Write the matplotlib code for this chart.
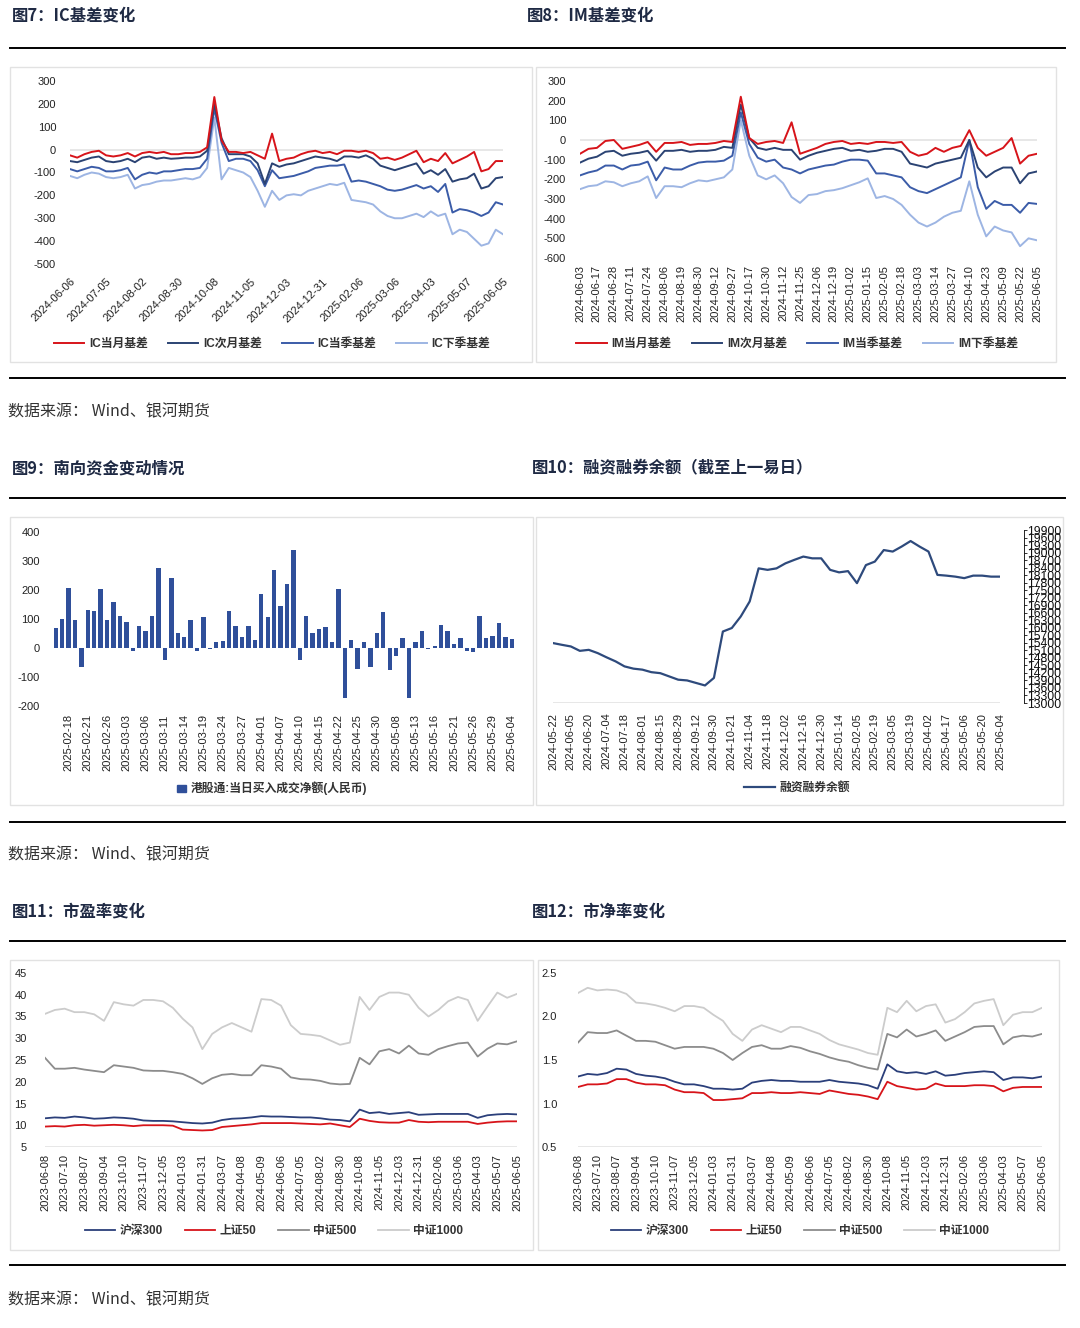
import matplotlib
matplotlib.use('Agg')
import matplotlib.pyplot as plt
from matplotlib.patches import Rectangle, Patch
from matplotlib.lines import Line2D

plt.rcParams['font.family'] = ['Liberation Sans', 'Noto Sans CJK SC', 'DejaVu Sans']
plt.rcParams['axes.unicode_minus'] = False

W, H = 1080, 1328

# ---------------- data ----------------
# fig 7: IC basis, every ~4 trading days
ic_labels = ['2024-06-06', '2024-07-05', '2024-08-02', '2024-08-30', '2024-10-08', '2024-11-05',
             '2024-12-03', '2024-12-31', '2025-02-06', '2025-03-06', '2025-04-03', '2025-05-07',
             '2025-06-05']
ic_month = [-25, -35, -20, -10, -5, -25, -30, -25, -15, -30,
            -15, -10, -15, -10, -20, -20, -15, -15, -10, 10,
            230, 40, -10, -10, -15, -10, -25, -40, 70, -50,
            -40, -35, -20, -10, -5, -15, -10, -20, -5, -5,
            -10, -5, -15, -40, -35, -45, -35, -20, -5, -55,
            -40, -50, -15, -60, -45, -30, -10, -95, -85, -50, -50]
ic_next = [-50, -55, -45, -35, -30, -50, -55, -50, -40, -55,
           -35, -30, -40, -35, -40, -38, -35, -35, -30, -5,
           200, 50, -20, -20, -20, -30, -60, -150, -60, -75,
           -65, -60, -50, -40, -30, -35, -40, -50, -30, -30,
           -35, -25, -40, -70, -80, -90, -80, -70, -60, -105,
           -90, -110, -85, -140, -130, -125, -105, -170, -160, -125, -120]
ic_quarter = [-85, -95, -85, -75, -80, -95, -95, -90, -80, -130,
              -110, -100, -105, -95, -95, -90, -85, -85, -80, -40,
              180, 30, -50, -40, -40, -50, -90, -160, -90, -125,
              -120, -115, -105, -95, -80, -75, -70, -70, -65, -140,
              -135, -140, -150, -160, -175, -180, -175, -165, -155, -170,
              -160, -185, -150, -275, -260, -265, -275, -290, -275, -230, -240]
ic_next_quarter = [-115, -125, -110, -100, -105, -120, -125, -120, -110, -170,
                   -155, -150, -140, -135, -135, -130, -125, -130, -120, -80,
                   140, -130, -80, -90, -100, -120, -180, -250, -180, -220,
                   -200, -195, -200, -180, -170, -160, -150, -155, -145, -220,
                   -225, -230, -240, -270, -290, -300, -300, -290, -280, -295,
                   -270, -290, -280, -370, -350, -360, -390, -420, -410, -350, -370]

# fig 8: IM basis
im_labels = ['2024-06-03', '2024-06-17', '2024-06-28', '2024-07-11', '2024-07-24', '2024-08-06',
             '2024-08-19', '2024-08-30', '2024-09-12', '2024-09-27', '2024-10-17', '2024-10-30',
             '2024-11-12', '2024-11-25', '2024-12-06', '2024-12-19', '2025-01-02', '2025-01-15',
             '2025-02-05', '2025-02-18', '2025-03-03', '2025-03-14', '2025-03-27', '2025-04-10',
             '2025-04-23', '2025-05-09', '2025-05-22', '2025-06-05']
im_month = [-70, -45, -40, -5, 0, -45, -35, -25, -10, -60,
            -15, -15, -10, -25, -20, -20, -15, -5, -10, 220,
            10, -20, -10, -5, -15, 90, -70, -55, -40, -20,
            -10, -5, -20, -15, -20, -10, -10, -15, -10, -60,
            -80, -70, -40, -60, -40, -30, 50, -40, -80, -60,
            -40, 10, -120, -80, -70]
im_next = [-115, -95, -85, -60, -55, -80, -70, -65, -55, -105,
           -55, -55, -50, -60, -55, -55, -50, -35, -40, 180,
           10, -40, -50, -40, -50, -50, -100, -80, -65, -55,
           -45, -40, -55, -50, -60, -55, -45, -45, -60, -120,
           -130, -140, -120, -110, -100, -90, 0, -140, -190, -160,
           -140, -140, -220, -170, -160]
im_quarter = [-180, -165, -155, -130, -130, -150, -130, -125, -110, -205,
              -140, -150, -150, -130, -115, -110, -110, -105, -80, 140,
              -20, -90, -110, -100, -140, -150, -170, -150, -140, -130,
              -125, -110, -100, -100, -105, -170, -170, -180, -190, -240,
              -260, -270, -250, -230, -210, -190, 0, -240, -350, -310,
              -330, -330, -370, -320, -325]
im_next_quarter = [-250, -235, -230, -210, -215, -235, -220, -210, -185, -295,
                   -235, -235, -240, -220, -205, -210, -200, -190, -150, 100,
                   -80, -180, -200, -180, -220, -290, -320, -280, -275, -260,
                   -255, -245, -230, -215, -195, -295, -285, -300, -330, -380,
                   -420, -440, -420, -390, -370, -360, -210, -380, -490, -440,
                   -460, -470, -540, -500, -510]

# fig 9: southbound net buying (daily)
sb_labels = ['2025-02-18', '2025-02-21', '2025-02-26', '2025-03-03', '2025-03-06', '2025-03-11',
             '2025-03-14', '2025-03-19', '2025-03-24', '2025-03-27', '2025-04-01', '2025-04-07',
             '2025-04-10', '2025-04-15', '2025-04-22', '2025-04-25', '2025-04-30', '2025-05-08',
             '2025-05-13', '2025-05-16', '2025-05-21', '2025-05-26', '2025-05-29', '2025-06-04']
sb_flow = [69, 100, 208, 97, -65, 130, 127, 205, 97, 157,
           111, 90, -12, 76, 60, 111, 277, -40, 242, 51,
           39, 97, -12, 107, -5, 20, 23, 127, 77, 37,
           77, 27, 185, 107, 270, 144, 221, 337, -40, 111,
           53, 66, 73, 20, 202, -173, 29, -72, 20, -65,
           53, 123, -77, -27, 36, -173, 20, 60, -5, 8,
           78, 57, 13, 33, -12, -15, 112, 33, 40, 87,
           37, 30]

# fig 10: margin balance
mg_labels = ['2024-05-22', '2024-06-05', '2024-06-20', '2024-07-04', '2024-07-18', '2024-08-01',
             '2024-08-15', '2024-08-29', '2024-09-12', '2024-09-30', '2024-10-21', '2024-11-04',
             '2024-11-18', '2024-12-02', '2024-12-16', '2024-12-30', '2025-01-14', '2025-02-05',
             '2025-02-19', '2025-03-05', '2025-03-19', '2025-04-02', '2025-04-17', '2025-05-06',
             '2025-05-20', '2025-06-04']
margin = [15390, 15320, 15255, 15080, 15120, 14990, 14820, 14660, 14460, 14370,
          14330, 14230, 14190, 14060, 13930, 13900, 13800, 13700, 14000, 15850,
          15990, 16450, 17050, 18370, 18310, 18370, 18570, 18710, 18840, 18770,
          18770, 18310, 18210, 18260, 17780, 18500, 18640, 19100, 19040, 19240,
          19460, 19240, 19040, 18110, 18080, 18040, 17980, 18080, 18080, 18040,
          18040]

# fig 11 / 12: PE and PB
val_labels = ['2023-06-08', '2023-07-10', '2023-08-07', '2023-09-04', '2023-10-10', '2023-11-07',
              '2023-12-05', '2024-01-03', '2024-01-31', '2024-03-07', '2024-04-08', '2024-05-09',
              '2024-06-06', '2024-07-05', '2024-08-02', '2024-08-30', '2024-10-08', '2024-11-05',
              '2024-12-03', '2024-12-31', '2025-02-06', '2025-03-06', '2025-04-03', '2025-05-07',
              '2025-06-05']
pe_hs300 = [11.6, 11.8, 11.7, 12.0, 11.8, 11.5, 11.6, 11.8, 11.7, 11.5,
            11.1, 11.0, 11.0, 10.9, 10.7, 10.5, 10.4, 10.6, 11.2, 11.5,
            11.6, 11.8, 12.1, 12.0, 12.0, 11.9, 11.8, 11.8, 11.6, 11.3,
            11.2, 10.9, 13.6, 12.8, 13.0, 12.6, 12.8, 13.0, 12.4, 12.5,
            12.6, 12.6, 12.6, 12.6, 11.7, 12.3, 12.5, 12.6, 12.5]
pe_sz50 = [9.7, 9.8, 9.7, 10.0, 10.1, 9.9, 10.0, 10.1, 10.0, 9.8,
           10.0, 10.0, 10.0, 9.9, 9.0, 8.9, 8.8, 8.9, 9.6, 9.8,
           10.0, 10.2, 10.5, 10.5, 10.5, 10.5, 10.4, 10.3, 10.2, 10.4,
           10.0, 9.6, 11.5, 11.0, 10.7, 10.6, 10.6, 11.2, 10.8, 10.7,
           10.8, 10.8, 10.8, 10.8, 10.3, 10.6, 10.8, 10.9, 10.9]
pe_csi500 = [25.5, 23.0, 23.0, 23.2, 22.8, 22.5, 22.2, 23.8, 23.5, 23.2,
             22.6, 22.5, 22.5, 22.2, 21.8, 20.8, 19.5, 20.8, 21.6, 21.8,
             21.5, 21.5, 23.8, 23.5, 23.0, 21.0, 20.6, 20.5, 20.2, 19.6,
             19.4, 19.5, 25.5, 24.0, 27.0, 27.5, 26.5, 28.3, 26.5, 26.2,
             27.5, 28.2, 28.8, 29.0, 25.8, 27.6, 28.8, 28.6, 29.3]
pe_csi1000 = [35.6, 36.5, 36.8, 36.0, 36.0, 35.5, 34.0, 38.3, 37.8, 37.5,
              38.8, 38.8, 38.5, 37.0, 34.5, 32.5, 27.5, 31.0, 32.5, 33.5,
              32.5, 31.5, 39.0, 38.8, 37.5, 33.0, 31.0, 30.8, 30.5, 29.5,
              28.5, 29.0, 39.5, 36.5, 39.5, 40.5, 40.5, 40.0, 37.0, 35.0,
              36.5, 38.5, 39.5, 38.8, 34.0, 37.3, 40.5, 39.3, 40.2]
pb_hs300 = [1.31, 1.34, 1.33, 1.35, 1.40, 1.39, 1.34, 1.32, 1.31, 1.29,
            1.25, 1.22, 1.22, 1.20, 1.17, 1.17, 1.16, 1.17, 1.24, 1.26,
            1.27, 1.26, 1.26, 1.25, 1.25, 1.25, 1.27, 1.25, 1.24, 1.23,
            1.21, 1.17, 1.45, 1.37, 1.35, 1.36, 1.34, 1.37, 1.32, 1.33,
            1.35, 1.36, 1.37, 1.36, 1.27, 1.30, 1.30, 1.29, 1.31]
pb_sz50 = [1.19, 1.22, 1.22, 1.23, 1.28, 1.28, 1.24, 1.22, 1.22, 1.21,
           1.16, 1.13, 1.13, 1.12, 1.04, 1.04, 1.05, 1.06, 1.12, 1.12,
           1.13, 1.12, 1.12, 1.13, 1.12, 1.11, 1.15, 1.13, 1.11, 1.10,
           1.08, 1.05, 1.25, 1.20, 1.18, 1.16, 1.17, 1.23, 1.20, 1.20,
           1.20, 1.21, 1.21, 1.20, 1.14, 1.18, 1.19, 1.19, 1.19]
pb_csi500 = [1.70, 1.82, 1.81, 1.81, 1.84, 1.78, 1.72, 1.72, 1.71, 1.67,
             1.63, 1.65, 1.65, 1.65, 1.63, 1.58, 1.50, 1.58, 1.65, 1.67,
             1.63, 1.63, 1.66, 1.64, 1.60, 1.57, 1.53, 1.50, 1.48, 1.44,
             1.41, 1.39, 1.80, 1.76, 1.85, 1.77, 1.80, 1.84, 1.72, 1.77,
             1.82, 1.88, 1.89, 1.89, 1.68, 1.76, 1.78, 1.77, 1.80]
pb_csi1000 = [2.27, 2.33, 2.30, 2.31, 2.30, 2.26, 2.16, 2.15, 2.13, 2.10,
              2.06, 2.12, 2.12, 2.10, 2.02, 1.95, 1.80, 1.72, 1.85, 1.90,
              1.86, 1.82, 1.88, 1.88, 1.84, 1.80, 1.73, 1.68, 1.65, 1.62,
              1.58, 1.56, 2.10, 2.05, 2.18, 2.06, 2.12, 2.14, 1.93, 1.97,
              2.05, 2.15, 2.18, 2.20, 1.90, 2.02, 2.05, 2.05, 2.10]

RED = '#d7141a'
NAVY = '#2b4373'
MID = '#3b5ca8'
LIGHT = '#9db5e3'
TITLE_C = '#1f2a44'

fig = plt.figure(figsize=(W / 100, H / 100), dpi=100)


def px_axes(l, t, r, b):
    return fig.add_axes([l / W, 1 - b / H, (r - l) / W, (b - t) / H])


def fy(y):
    return 1 - y / H


def hrule(y):
    fig.add_artist(Line2D([10 / W, 1065 / W], [fy(y), fy(y)], color='black', lw=1.4))


def panel(l, t, r, b):
    fig.add_artist(Rectangle((l / W, fy(b)), (r - l) / W, (b - t) / H,
                             fill=False, ec='#e2e2e2', lw=1))


def title(x, y, s):
    fig.text(x / W, fy(y), s, fontsize=11.8, fontweight='bold', color=TITLE_C,
             va='center', ha='left', family=['Noto Sans CJK SC', 'DejaVu Sans'])


def source(y):
    fig.text(8 / W, fy(y), '数据来源： Wind、银河期货', fontsize=11.5, color='#333333',
             va='center', ha='left', family=['Noto Sans CJK SC', 'DejaVu Sans'])


def clean(ax, ypad):
    for s in ax.spines.values():
        s.set_visible(False)
    ax.tick_params(axis='both', length=0, labelsize=8, colors='#222222')
    ax.tick_params(axis='y', pad=ypad)


def legend(ax, cx, cy, ncol, gap=2.0, hl=2.6, handles=None):
    kw = dict(loc='center', bbox_to_anchor=(cx / W, fy(cy)), bbox_transform=fig.transFigure,
              ncol=ncol, frameon=False, handlelength=hl, columnspacing=gap,
              handletextpad=0.4, prop={'size': 8.5, 'weight': 'bold'}, labelcolor='#333333')
    if handles is not None:
        ax.legend(handles=handles, **kw)
    else:
        ax.legend(**kw)


# ---------------- layout: titles, rules, panels ----------------
title(12, 16, '图7：IC基差变化')
title(527, 16, '图8：IM基差变化')
title(12, 468, '图9：南向资金变动情况')
title(532, 468, '图10：融资融券余额（截至上一易日）')
title(12, 911, '图11：市盈率变化')
title(532, 911, '图12：市净率变化')
for y in (48, 378, 498, 822, 941, 1265):
    hrule(y)
for y in (412, 855, 1300):
    source(y)
panel(10, 67, 532, 362)
panel(536, 67, 1056, 362)
panel(10, 517, 533, 805)
panel(536, 517, 1063, 805)
panel(10, 960, 533, 1250)
panel(538, 960, 1059, 1250)

# ---------------- fig 7 ----------------
ax = px_axes(70, 81, 503, 264)
x = range(len(ic_month))
ax.axhline(0, color='#e3e3e3', lw=1.2, zorder=0)
ax.plot(x, ic_next_quarter, color=LIGHT, lw=1.4, label='IC下季基差')
ax.plot(x, ic_quarter, color=MID, lw=1.4, label='IC当季基差')
ax.plot(x, ic_next, color=NAVY, lw=1.4, label='IC次月基差')
ax.plot(x, ic_month, color=RED, lw=1.4, label='IC当月基差')
ax.set_xlim(0, len(ic_month) - 1)
ax.set_ylim(-500, 300)
ax.set_yticks(range(-500, 301, 100))
ax.set_xticks(range(0, len(ic_month), 5))
ax.set_xticklabels(ic_labels, rotation=45, ha='right', rotation_mode='anchor')
clean(ax, 10)
ax.tick_params(axis='x', pad=9)
h, l = ax.get_legend_handles_labels()
legend(ax, 272, 344, 4, gap=1.7, handles=h[::-1])

# ---------------- fig 8 ----------------
ax = px_axes(580, 81, 1037, 258)
x = range(len(im_month))
ax.axhline(0, color='#e3e3e3', lw=1.2, zorder=0)
ax.plot(x, im_next_quarter, color=LIGHT, lw=1.4, label='IM下季基差')
ax.plot(x, im_quarter, color=MID, lw=1.4, label='IM当季基差')
ax.plot(x, im_next, color=NAVY, lw=1.4, label='IM次月基差')
ax.plot(x, im_month, color=RED, lw=1.4, label='IM当月基差')
ax.set_xlim(0, len(im_month) - 1)
ax.set_ylim(-600, 300)
ax.set_yticks(range(-600, 301, 100))
ax.set_xticks(range(0, len(im_month), 2))
ax.set_xticklabels(im_labels, rotation=90)
clean(ax, 10)
ax.tick_params(axis='x', pad=5)
h, l = ax.get_legend_handles_labels()
legend(ax, 797, 344, 4, gap=1.7, handles=h[::-1])

# ---------------- fig 9 ----------------
ax = px_axes(52.5, 532, 515, 706)
x = range(len(sb_flow))
ax.bar(x, sb_flow, width=0.68, color='#2f4f9a', label='港股通:当日买入成交净额(人民币)')
ax.set_xlim(-0.5, len(sb_flow) - 0.5)
ax.set_ylim(-200, 400)
ax.set_yticks(range(-200, 401, 100))
ax.set_xticks(range(2, len(sb_flow), 3))
ax.set_xticklabels(sb_labels, rotation=90)
clean(ax, 9)
ax.tick_params(axis='x', pad=6)
legend(ax, 272, 788, 1, hl=0.7,
       handles=[Patch(color='#2f4f9a', label='港股通:当日买入成交净额(人民币)')])
ax.get_legend().legend_handles[0].set_height(5)

# ---------------- fig 10 ----------------
ax = px_axes(553, 530, 1000, 703)
x = range(len(margin))
ax.axhline(13000, color='#e3e3e3', lw=1.2, zorder=0)
ax.plot(x, margin, color='#2e4a7c', lw=1.6, label='融资融券余额')
ax.set_xlim(0, len(margin) - 1)
ax.set_ylim(13000, 19900)
ax.set_xticks(range(0, len(margin), 2))
ax.set_xticklabels(mg_labels, rotation=90)
for s in ax.spines.values():
    s.set_visible(False)
ax.yaxis.tick_right()
ax.spines['right'].set_position(('outward', 17))
ax.spines['right'].set_visible(True)
ax.spines['right'].set_linewidth(0.6)
ax.set_yticks(range(13000, 19901, 300))
ax.tick_params(axis='y', length=2, width=0.6, labelsize=8.8, pad=0.5, colors='#111111')
ax.tick_params(axis='x', length=0, labelsize=8, pad=7, colors='#222222')
legend(ax, 797, 788, 1)

# ---------------- fig 11 ----------------
ax = px_axes(45, 973, 517, 1147)
x = range(len(pe_hs300))
ax.axhline(5, color='#e3e3e3', lw=1.2, zorder=0)
ax.plot(x, pe_csi1000, color='#cccccc', lw=1.3, label='中证1000')
ax.plot(x, pe_csi500, color='#8c8c8c', lw=1.3, label='中证500')
ax.plot(x, pe_sz50, color=RED, lw=1.3, label='上证50')
ax.plot(x, pe_hs300, color='#2b3f7a', lw=1.3, label='沪深300')
ax.set_xlim(0, len(pe_hs300) - 1)
ax.set_ylim(5, 45)
ax.set_yticks(range(5, 46, 5))
ax.set_xticks(range(0, len(pe_hs300), 2))
ax.set_xticklabels(val_labels, rotation=90)
clean(ax, 13)
ax.tick_params(axis='x', pad=5)
h, l = ax.get_legend_handles_labels()
legend(ax, 274, 1231, 4, gap=1.8, handles=h[::-1])

# ---------------- fig 12 ----------------
ax = px_axes(578, 973, 1042, 1147)
x = range(len(pb_hs300))
ax.axhline(0.5, color='#e3e3e3', lw=1.2, zorder=0)
ax.plot(x, pb_csi1000, color='#cccccc', lw=1.3, label='中证1000')
ax.plot(x, pb_csi500, color='#8c8c8c', lw=1.3, label='中证500')
ax.plot(x, pb_sz50, color=RED, lw=1.3, label='上证50')
ax.plot(x, pb_hs300, color='#2b3f7a', lw=1.3, label='沪深300')
ax.set_xlim(0, len(pb_hs300) - 1)
ax.set_ylim(0.5, 2.5)
ax.set_yticks([0.5, 1.0, 1.5, 2.0, 2.5])
ax.set_yticklabels(['0.5', '1.0', '1.5', '2.0', '2.5'])
ax.set_xticks(range(0, len(pb_hs300), 2))
ax.set_xticklabels(val_labels, rotation=90)
clean(ax, 15)
ax.tick_params(axis='x', pad=5)
h, l = ax.get_legend_handles_labels()
legend(ax, 800, 1231, 4, gap=1.8, handles=h[::-1])

fig.savefig('out.png', dpi=100, facecolor='white')
